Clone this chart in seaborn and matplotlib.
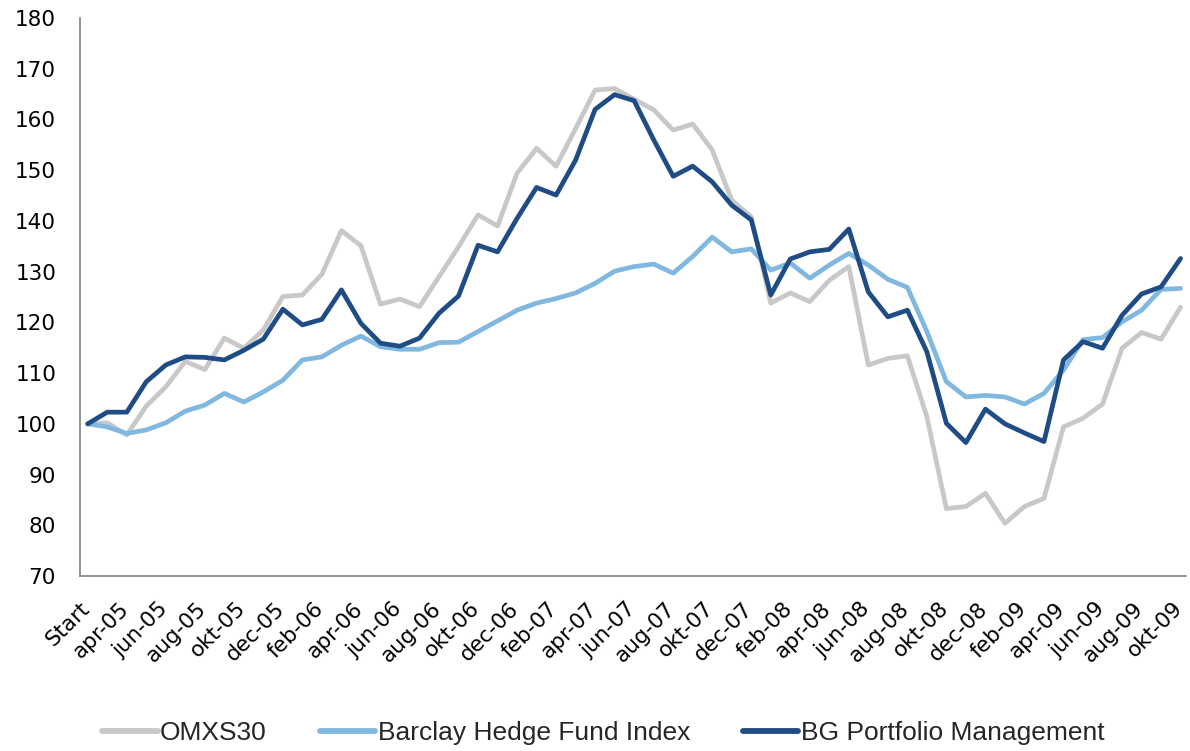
import numpy as np
import pandas as pd
import matplotlib
matplotlib.use("Agg")
import matplotlib.pyplot as plt
import matplotlib.transforms as mtransforms
import seaborn as sns

# data (index = 100 at start, monthly)
months = ["jan", "feb", "mar", "apr", "maj", "jun", "jul", "aug", "sep", "okt", "nov", "dec"]
periods = ["Start"] + [f"{m}-{y:02d}" for y in range(5, 10) for m in months][2:-2]

omxs30 = [100, 100.2, 97.8, 103.5, 107.3, 112.3, 110.7, 116.9, 114.9, 118.5,
          125.1, 125.4, 129.5, 138.1, 135.1, 123.6, 124.6, 123.1, 129, 134.9,
          141.2, 139, 149.4, 154.3, 150.8, 158.2, 165.8, 166.1, 164, 161.9,
          157.9, 159.1, 154, 144.1, 140.8, 123.8, 125.8, 124.1, 128.3, 131,
          111.6, 112.9, 113.4, 101.4, 83.3, 83.7, 86.3, 80.4, 83.7, 85.3,
          99.4, 101.1, 103.9, 114.9, 118, 116.7, 123]
barclay = [100, 99.4, 98.1, 98.8, 100.2, 102.5, 103.7, 106, 104.3, 106.3,
           108.6, 112.6, 113.2, 115.5, 117.3, 115.2, 114.7, 114.7, 116, 116.1,
           118.2, 120.3, 122.4, 123.8, 124.7, 125.8, 127.7, 130.1, 131, 131.5,
           129.7, 133, 136.8, 133.9, 134.5, 130.3, 131.7, 128.7, 131.3, 133.6,
           131.3, 128.5, 126.9, 118.2, 108.3, 105.3, 105.6, 105.3, 103.9, 106,
           110.6, 116.6, 117, 120.1, 122.4, 126.5, 126.7]
bg = [100, 102.3, 102.3, 108.3, 111.6, 113.2, 113.1, 112.6, 114.5, 116.7,
      122.6, 119.5, 120.6, 126.4, 119.8, 115.9, 115.3, 116.9, 121.8, 125.2,
      135.2, 133.9, 140.5, 146.6, 145.1, 152, 162, 164.9, 163.7, 156,
      148.8, 150.8, 147.7, 143.1, 140.2, 125.4, 132.5, 133.9, 134.4, 138.4,
      126, 121.1, 122.4, 114.2, 100.1, 96.3, 102.9, 100, 98.2, 96.5,
      112.6, 116.2, 114.9, 121.4, 125.6, 127, 132.6]

names = ["OMXS30", "Barclay Hedge Fund Index", "BG Portfolio Management"]
colors = ["#C8C8C8", "#80B8E0", "#1F4C84"]

df = pd.DataFrame({"t": np.arange(len(periods)), names[0]: omxs30,
                   names[1]: barclay, names[2]: bg})
long = df.melt(id_vars="t", var_name="serie", value_name="index")

sns.set_style("white")
fig = plt.figure(figsize=(11.9, 7.51), dpi=100)
ax = fig.add_axes([0.067, 0.233, 0.93, 0.743])

sns.lineplot(data=long, x="t", y="index", hue="serie", hue_order=names,
             palette=dict(zip(names, colors)), linewidth=3.4, ax=ax, legend=False)

ax.set_xlim(-0.41, 56.3)
ax.set_ylim(70, 180)
ax.set_yticks(range(70, 181, 10))
ax.set_xticks(range(0, len(periods), 2))
ax.set_xticklabels(periods[::2], rotation=45, ha="right", rotation_mode="anchor")
ax.tick_params(axis="both", length=0, labelsize=15.5, colors="black")
ax.tick_params(axis="x", pad=13)
ax.tick_params(axis="y", pad=17)
# nudge rotated labels a bit left/down like the original
shift = mtransforms.ScaledTranslation(-6 / 72, -3 / 72, fig.dpi_scale_trans)
for lab in ax.get_xticklabels():
    lab.set_transform(lab.get_transform() + shift)
ax.set_xlabel("")
ax.set_ylabel("")
for s in ["top", "right"]:
    ax.spines[s].set_visible(False)
for s in ["left", "bottom"]:
    ax.spines[s].set_color("#808080")
    ax.spines[s].set_linewidth(1.2)

handles = [plt.Line2D([], [], color=c, lw=4.2, solid_capstyle="round") for c in colors]
fig.legend(handles, names, loc="center", bbox_to_anchor=(0.507, 0.024), ncol=3,
           frameon=False, handlelength=2.1, handletextpad=0.1, columnspacing=2.0,
           prop={"family": "Liberation Sans", "size": 19})

fig.savefig("out.png", dpi=100)
